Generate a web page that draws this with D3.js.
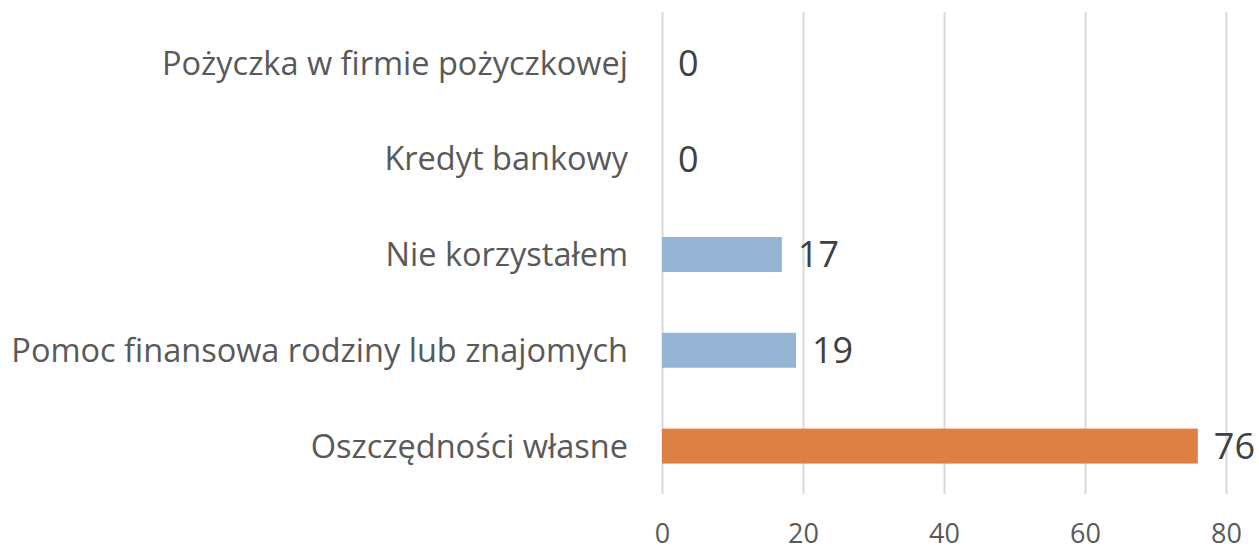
<!DOCTYPE html>
<html>
<head>
<meta charset="utf-8">
<script src="https://cdn.jsdelivr.net/npm/d3@7"></script>
<style>
  body { margin: 0; background: #fff; }
  svg { display: block; font-family: "Open Sans", sans-serif; }
</style>
</head>
<body>
<svg class="chart"></svg>
<script>
// chart size
const width = 1259
const height = 551

// data, top to bottom as drawn
const categories = [
  'Pożyczka w firmie pożyczkowej',
  'Kredyt bankowy',
  'Nie korzystałem',
  'Pomoc finansowa rodziny lub znajomych',
  'Oszczędności własne'
]
const values = [0, 0, 17, 19, 76]
const barColors = ['#95b3d3', '#95b3d3', '#95b3d3', '#95b3d3', '#de7f45']
const tickValues = [0, 20, 40, 60, 80]

const data = categories.map((c, i) => ({ name: c, value: values[i], color: barColors[i] }))

const svg = d3.select('svg.chart')
  .attr('width', width)
  .attr('height', height)

const xScale = d3.scaleLinear()
  .domain([0, 80])
  .range([662, 1226])

const yScale = d3.scaleBand()
  .domain(categories)
  .range([15, 494])
  .paddingInner(0.635)
  .paddingOuter(0.3175)

// gridlines + tick labels
const xAxis = d3.axisBottom(xScale)
  .tickValues(tickValues)
  .tickSize(-(494 - 12))
  .tickPadding(30)

svg.append('g')
  .attr('class', 'xAxis')
  .attr('transform', 'translate(0, 494)')
  .call(xAxis)
  .call(g => g.select('.domain').remove())
  .call(g => g.selectAll('.tick line').attr('stroke', '#d9d9d9').attr('stroke-width', 2))
  .call(g => g.selectAll('.tick text')
    .attr('fill', '#595959')
    .attr('font-size', 27)
    .attr('font-family', '"Open Sans", sans-serif'))

// bars
svg.selectAll('rect.bar')
  .data(data)
  .enter()
  .append('rect')
    .attr('class', 'bar')
    .attr('x', xScale(0))
    .attr('y', d => yScale(d.name))
    .attr('width', d => xScale(d.value) - xScale(0))
    .attr('height', yScale.bandwidth())
    .attr('fill', d => d.color)

// value labels
svg.selectAll('text.value')
  .data(data)
  .enter()
  .append('text')
    .attr('class', 'value')
    .attr('x', d => xScale(d.value) + 16)
    .attr('y', d => yScale(d.name) + yScale.bandwidth() / 2)
    .attr('dy', '0.36em')
    .attr('fill', '#404040')
    .attr('font-size', 36)
    .text(d => d.value)

// category labels
svg.selectAll('text.cat')
  .data(data)
  .enter()
  .append('text')
    .attr('class', 'cat')
    .attr('x', 628)
    .attr('y', d => yScale(d.name) + yScale.bandwidth() / 2)
    .attr('dy', '0.36em')
    .attr('text-anchor', 'end')
    .attr('fill', '#595959')
    .attr('font-size', 32.5)
    .text(d => d.name)
</script>
</body>
</html>
